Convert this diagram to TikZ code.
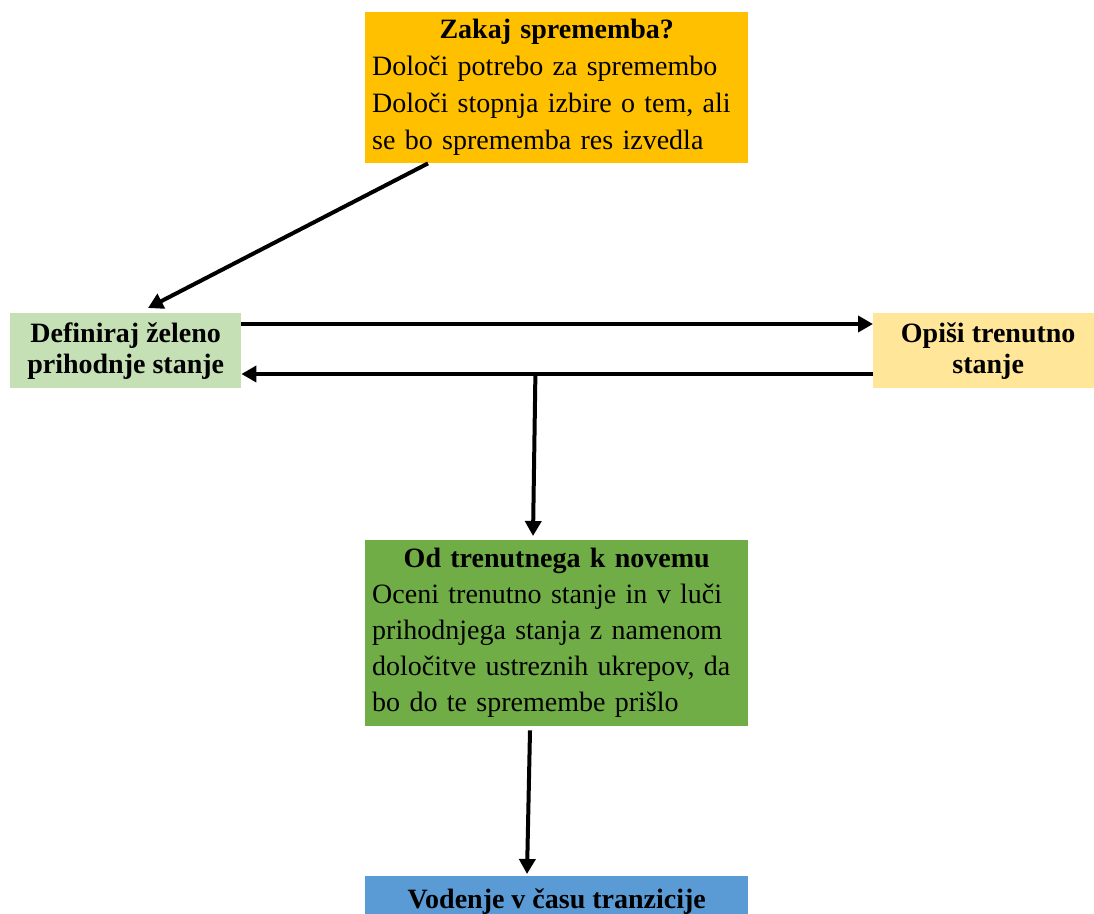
\documentclass[tikz,border=0pt]{standalone}
\usepackage{fontspec}
\setmainfont{Liberation Serif}
\usetikzlibrary{arrows.meta,calc}
\definecolor{whyfill}{HTML}{FFC000}
\definecolor{goalfill}{HTML}{C5E0B4}
\definecolor{nowfill}{HTML}{FFE699}
\definecolor{planfill}{HTML}{70AD47}
\definecolor{leadfill}{HTML}{5B9BD5}
\begin{document}
\begin{tikzpicture}[x=1pt,y=-1pt,
  box/.style={draw=none, anchor=north west, inner ysep=0pt},
  textbox/.style={box, inner xsep=7pt, text width=369pt, align=left},
  smallbox/.style={box, inner xsep=0pt, align=center,
    font=\fontsize{28}{31}\selectfont\bfseries},
  arr/.style={line width=4pt, -{Triangle[length=15pt,width=16pt]}}]
\useasboundingbox (0,0) rectangle (1094,913);
\clip (0,0) rectangle (1094,913);

% boxes
\node[textbox, fill=whyfill, minimum height=151pt,
      font=\fontsize{28}{37}\selectfont] (why) at (365,12)
  {\makebox[369pt]{\bfseries Zakaj sprememba?}\\
   Določi potrebo za spremembo\\
   Določi stopnja izbire o tem, ali\\
   se bo sprememba res izvedla};

\node[smallbox, fill=goalfill, minimum width=231pt, minimum height=75pt]
  (goal) at (10,313) {Definiraj želeno\\prihodnje stanje};

\node[smallbox, fill=nowfill, minimum width=230pt, minimum height=75pt]
  (now) at (873,313) {Opiši trenutno\\stanje};

\node[textbox, fill=planfill, minimum height=186pt,
      font=\fontsize{28}{36}\selectfont] (plan) at (365,540)
  {\makebox[369pt]{\bfseries Od trenutnega k novemu}\\
   Oceni trenutno stanje in v luči\\
   prihodnjega stanja z namenom\\
   določitve ustreznih ukrepov, da\\
   bo do te spremembe prišlo};

\node[box, fill=leadfill, minimum width=383pt, inner xsep=0pt, inner ysep=13pt,
      text height=19pt, text depth=7pt,
      font=\fontsize{28}{31}\selectfont\bfseries] (lead) at (365,876)
  {Vodenje v času tranzicije};

% connectors
\draw[arr] ($(why.south west)+(63,0)$) -- ($(goal.north west)+(138,-5)$);
\draw[arr] ($(goal.north east)+(0,11)$) -- ($(now.north west)+(0,11)$);
\draw[arr] ($(now.north west)+(0,61)$) -- ($(goal.north east)+(0,61)$);
\coordinate (split) at ($(goal.north east)+(294,61)$);
\draw[arr] (split) -- ($(plan.north west)+(168,-4)$);
\draw[arr] ($(plan.south west)+(165,4)$) -- ($(lead.north west)+(162,-2)$);
\end{tikzpicture}
\end{document}
